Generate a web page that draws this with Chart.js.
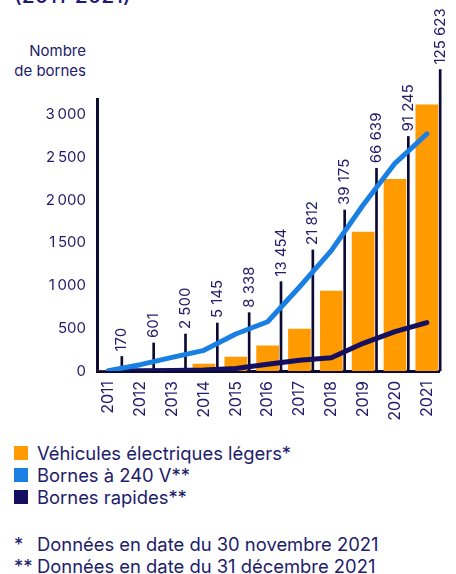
<!DOCTYPE html>
<html>
<head>
<meta charset="utf-8">
<script src="https://cdn.jsdelivr.net/npm/chart.js@4/dist/chart.umd.min.js"></script>
<style>
  body { margin: 0; width: 456px; height: 574px; overflow: hidden; background: #fff; font-family: Inter, sans-serif; color: #221c6b; position: relative; }
  #title { position: absolute; left: 14px; top: -15px; font-size: 21px; line-height: 22px; font-weight: 500; color: #1e1a78; }
  #yTitle { position: absolute; right: 370px; top: 41px; font-size: 15px; line-height: 20px; text-align: right; }
  #wrap { position: absolute; left: 0; top: 0; width: 456px; height: 430px; }
  #legend { position: absolute; left: 14px; top: 442px; font-size: 18.4px; line-height: 22px; }
  .item { display: flex; align-items: center; }
  .sw { width: 14px; height: 14px; margin-right: 9px; }
  #notes { position: absolute; left: 14px; top: 533px; font-size: 18.4px; line-height: 22px; }
  .note { display: flex; }
  .mark { width: 23px; }
</style>
</head>
<body>
<div id="title">(2011-2021)</div>
<div id="yTitle">Nombre<br>de bornes</div>
<div id="wrap"><canvas id="chart"></canvas></div>
<div id="legend"></div>
<div id="notes">
  <div class="note"><span class="mark">*</span><span>Données en date du 30 novembre 2021</span></div>
  <div class="note"><span class="mark">**</span><span>Données en date du 31 décembre 2021</span></div>
</div>
<script>
const years = [2011, 2012, 2013, 2014, 2015, 2016, 2017, 2018, 2019, 2020, 2021];
const vehicleLabels = ["170", "601", "2 500", "5 145", "8 338", "13 454", "21 812", "39 175", "66 639", "91 245", "125 623"];
const vehicleBars = [0, 3, 0, 82, 164, 296, 492, 937, 1628, 2245, 3118];
const leaderTops = [170, 328, 433, 562, 683, 1046, 1417, 1885, 2374, 2746, 3530];
const bornes240 = [4, 74, 160, 242, 433, 577, 984, 1409, 1944, 2432, 2775];
const bornesRapides = [0, 2, 5, 12, 29, 78, 125, 156, 324, 460, 566];
const yTicks = [0, 500, 1000, 1500, 2000, 2500, 3000];

const navy = "#221c6b";
const orange = "#ff9a00";
const blue = "#1a7fe3";
const deepNavy = "#140f5f";
const ink = "#0d0a33";

const legendItems = [
    { label: "Véhicules électriques légers*", color: orange },
    { label: "Bornes à 240 V**", color: blue },
    { label: "Bornes rapides**", color: deepNavy }
];
const legend = document.getElementById("legend");
legendItems.forEach(it => {
    const row = document.createElement("div");
    row.className = "item";
    const sw = document.createElement("span");
    sw.className = "sw";
    sw.style.background = it.color;
    const txt = document.createElement("span");
    txt.innerText = it.label;
    row.appendChild(sw);
    row.appendChild(txt);
    legend.appendChild(row);
});

const pts = (arr, shift = 0) => arr.map((v, i) => ({ x: years[i] + shift, y: v }));

// rotated vehicle counts above the black leader lines
const leaderLabels = {
    id: "leaderLabels",
    afterDatasetsDraw(chart) {
        const meta = chart.getDatasetMeta(2);
        const ctx = chart.ctx;
        ctx.save();
        ctx.font = "15px Inter, sans-serif";
        ctx.fillStyle = navy;
        ctx.textAlign = "left";
        ctx.textBaseline = "middle";
        meta.data.forEach((el, i) => {
            ctx.save();
            ctx.translate(el.x, el.y - 5);
            ctx.rotate(-Math.PI / 2);
            ctx.fillText(vehicleLabels[i], 0, 0);
            ctx.restore();
        });
        ctx.restore();
    }
};

new Chart(document.getElementById("chart"), {
    type: "bar",
    data: {
        datasets: [
            {
                type: "line",
                label: "Bornes à 240 V**",
                data: pts(bornes240),
                borderColor: blue,
                borderWidth: 5,
                pointRadius: 0,
                borderCapStyle: "round",
                borderJoinStyle: "round",
                order: 0
            },
            {
                type: "line",
                label: "Bornes rapides**",
                data: pts(bornesRapides),
                borderColor: deepNavy,
                borderWidth: 5,
                pointRadius: 0,
                borderCapStyle: "round",
                borderJoinStyle: "round",
                order: 1
            },
            {
                label: "leaders",
                data: pts(leaderTops, 0.42),
                backgroundColor: ink,
                barThickness: 2,
                grouped: false,
                clip: false,
                order: 2
            },
            {
                label: "Véhicules électriques légers*",
                data: pts(vehicleBars),
                backgroundColor: orange,
                barThickness: 22,
                grouped: false,
                order: 3
            }
        ]
    },
    options: {
        responsive: true,
        maintainAspectRatio: false,
        animation: false,
        layout: { padding: { top: 99, left: 0, right: 0, bottom: 0 } },
        plugins: {
            legend: { display: false },
            tooltip: { enabled: false }
        },
        scales: {
            x: {
                type: "linear",
                min: 2010.64,
                max: 2021.405,
                offset: false,
                grid: { display: false, offset: false, drawTicks: false },
                border: { color: ink, width: 3 },
                afterBuildTicks: s => { s.ticks = years.map(v => ({ value: v })); },
                afterFit: s => { s.height = 59; },
                ticks: {
                    color: navy,
                    font: { family: "Inter, sans-serif", size: 16 },
                    padding: 10,
                    minRotation: 90,
                    maxRotation: 90,
                    callback: v => String(v)
                }
            },
            y: {
                min: 0,
                max: 3185,
                grid: { display: false, drawTicks: false },
                border: { color: ink, width: 3 },
                afterBuildTicks: s => { s.ticks = yTicks.map(v => ({ value: v })); },
                afterFit: s => { s.width = 97; },
                ticks: {
                    color: navy,
                    font: { family: "Inter, sans-serif", size: 15 },
                    padding: 11,
                    callback: v => v >= 1000 ? Math.floor(v / 1000) + "\u202f" + String(v % 1000).padStart(3, "0") : String(v)
                }
            }
        }
    },
    plugins: [leaderLabels]
});
</script>
</body>
</html>
